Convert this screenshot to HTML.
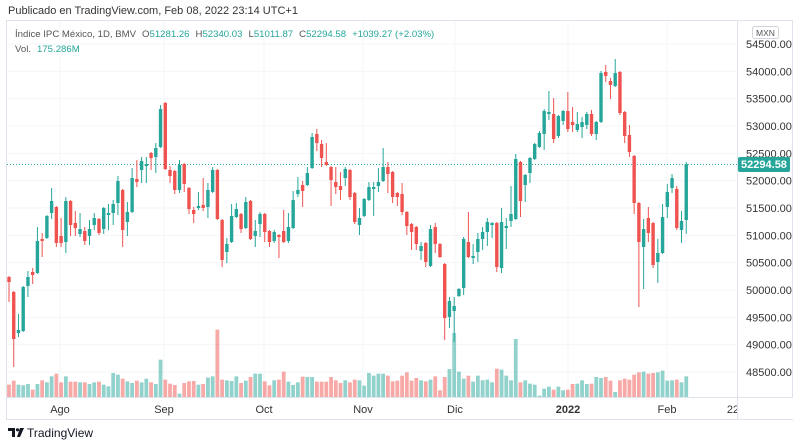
<!DOCTYPE html>
<html><head><meta charset="utf-8"><style>
html,body{margin:0;padding:0;background:#fff;width:800px;height:447px;overflow:hidden}
svg{display:block}
text{font-family:"Liberation Sans",sans-serif}
</style></head><body>
<svg id="c" width="800" height="447" xmlns="http://www.w3.org/2000/svg"></svg>
<script>
const G='#26a69a',R='#ef5350';
const C=[
['r',277,282,276,302],['r',292,339,291,367],['g',330,333,314,337],['g',287,331,286,332],['g',277,286,271,297],['r',272,275,268,284],['g',241,273,227,274],['r',239,241,233,257],['g',216,238,215,239],['g',201,213,188,219],
['r',207,243,206,247],['r',236,243,218,247],['g',201,242,197,253],['r',201,225,200,236],['r',223,228,211,236],['g',229,234,213,237],['r',231,241,227,245],['g',229,236,220,245],['g',218,225,213,230],['r',219,233,218,235],
['g',208,229,207,234],['g',213,215,204,230],['g',204,213,200,225],['g',181,203,176,215],['r',190,230,189,247],['g',212,222,202,236],['g',178,212,168,213],['r',179,182,160,187],['g',161,170,157,183],['g',164,166,157,183],
['r',153,158,152,170],['g',148,157,143,173],['g',109,147,105,148],['r',103,169,102,170],['r',170,176,166,183],['r',171,190,170,194],['g',165,190,160,193],['r',164,184,163,192],['r',188,209,187,214],['r',210,214,207,223],
['g',206,208,192,210],['r',205,208,178,211],['g',190,207,183,218],['g',170,192,167,193],['r',170,219,169,220],['r',220,260,219,267],['g',244,252,238,263],['g',216,242,204,243],['g',209,217,203,218],['r',214,229,213,233],
['g',202,228,197,229],['r',201,239,200,240],['g',231,236,220,247],['g',214,224,212,237],['r',214,232,213,242],['r',231,242,230,247],['g',232,241,230,243],['r',235,237,234,258],['r',231,242,210,243],['g',227,241,213,243],
['g',200,228,191,229],['g',190,194,177,197],['r',185,191,181,207],['g',173,185,167,186],['g',137,168,133,169],['r',134,143,129,151],['r',144,158,140,167],['r',162,165,143,166],['r',167,180,166,206],['r',182,187,167,194],
['r',186,190,172,200],['g',169,178,167,186],['r',170,197,169,200],['r',193,222,192,224],['g',218,225,208,235],['g',199,216,198,217],['g',187,200,182,201],['g',187,189,182,216],['g',182,186,168,192],['g',167,181,148,182],
['r',167,174,162,193],['r',172,197,171,203],['r',193,197,192,206],['r',194,212,183,215],['r',212,226,211,235],['r',224,232,223,250],['r',227,244,226,250],['g',246,251,242,260],['r',243,262,242,267],['g',229,266,225,267],
['r',227,244,223,253],['r',244,257,243,258],['r',264,318,263,340],['g',301,317,297,328],['g',306,311,297,342],['g',289,296,288,297],['g',239,288,237,295],['r',242,257,212,258],['g',256,258,244,264],['g',239,252,233,262],
['g',232,239,227,250],['g',222,232,218,246],['g',223,225,222,238],['r',223,267,222,272],['g',222,268,208,273],['g',226,228,218,249],['g',214,221,186,227],['g',159,219,154,220],['r',162,201,161,217],['g',175,185,174,202],
['g',158,173,157,183],['g',144,159,143,160],['g',133,147,131,148],['g',111,134,109,150],['g',112,114,91,120],['r',114,139,98,143],['g',116,136,115,138],['g',111,121,110,125],['r',111,129,92,132],['r',122,125,107,132],
['g',124,130,112,132],['g',122,127,117,138],['g',114,125,112,129],['r',114,134,110,136],['g',122,134,121,140],['g',73,122,71,123],['r',72,76,65,82],['r',81,85,78,99],['g',73,86,59,87],['r',72,113,71,115],
['r',112,136,111,143],['r',135,152,125,157],['r',156,203,155,214],['r',203,242,202,307],['g',229,247,219,289],['r',218,233,207,242],['r',223,265,222,268],['g',253,262,239,283],['g',217,253,204,254],['g',192,207,184,218],
['g',178,188,174,193],['r',189,228,186,230],['g',221,230,211,243],['g',164,220,162,234]];
const z4='r195 r183 g195 g197 g193 r210 g193 r182 g188 g170 r162 r188 g170 r186 r186 g188 r188 g193 g188 r186 g195 g200 g160 g165 r177 g185 g190 r183 g188 g177 r188 g193 g120 r180 r192 r196 g222 r190 r185 r184 g195 r193 g174 g170 r30 r180 g182 g184 g170 r190 g183 r172 g162 g162 r185 r197 g182 r180 r156 g186 g196 g188 r171 g172 g172 r186 r186 r186 r172 r182'.split(' ');
const z5='r190 g182 r188 r180 g182 g198 g160 g168 g162 g162 r168 r185 r183 r168 r158 r183 r175 g182 r185 g180 r170 r212 r172 g148 g40 g156 g177 r168 g186 g168 g182 g180 g188 r147 g150 g168 g182 g58 r188 g182 g192 g195 g228 g207 g201 r210 g201 g212 r210 r193 g192 g182 g193 r192 g172 g175 r172 r183 g217 r182 r177 r180 r165 r158 g156 r162 r160 g158 g153 g183 g182 r180 g188 g170'.split(' ');
const V=z4.slice(0,70).concat(z5);
let s='';
const X=i=>9+i*4.736;
s+='<rect x="6.5" y="20.5" width="786" height="399" fill="none" stroke="#e0e3eb"/>';
const yp=p=>44+(54500-p)/500*27.333;
for(let p=48500;p<=54500;p+=500){const y=yp(p);s+=`<line x1="7" x2="737" y1="${y}" y2="${y}" stroke="#f3f5f9"/>`;
s+=`<text x="746" y="${y+4}" font-size="11" fill="#333">${p.toFixed(2)}</text>`;}
const M=[[60,'Ago'],[164,'Sep'],[264,'Oct'],[363,'Nov'],[455,'Dic'],[568,'2022'],[667,'Feb']];
M.forEach(([x,t])=>{s+=`<line x1="${x}" x2="${x}" y1="21" y2="397" stroke="#f3f5f9"/>`;
s+=`<text x="${x}" y="413" font-size="11" fill="#333" text-anchor="middle"${t=='2022'?' font-weight="bold"':''}>${t}</text>`;});
s+='<text x="733" y="413" font-size="11" fill="#333" text-anchor="middle">22</text>';
s+='<rect x="737" y="397" width="56" height="22" fill="#fff"/>';
s+='<line x1="737.5" x2="737.5" y1="21" y2="419" stroke="#e0e3eb"/>';
s+='<line x1="7" x2="793" y1="397.5" y2="397.5" stroke="#e0e3eb"/>';
V.forEach((v,i)=>{const h=(232-(+v.slice(1)))/3;const x=X(i);
s+=`<rect x="${x-1.9}" y="${397-h}" width="3.8" height="${h}" fill="${v[0]=='g'?'rgba(38,166,154,0.5)':'rgba(239,83,80,0.5)'}"/>`;});
s+='<line x1="7" x2="737" y1="164.5" y2="164.5" stroke="#26a69a" stroke-dasharray="1,2"/>';
C.forEach((c,i)=>{const x=X(i),col=c[0]=='g'?G:R;
s+=`<line x1="${x}" x2="${x}" y1="${c[3]}" y2="${c[4]}" stroke="${col}" stroke-width="1"/>`;
s+=`<rect x="${x-1.7}" y="${c[1]}" width="3.4" height="${Math.max(1,c[2]-c[1])}" fill="${col}"/>`;});
s+='<rect x="738" y="157" width="52" height="15" rx="2" fill="#26a69a"/><text x="764" y="168" font-size="11" fill="#fff" text-anchor="middle" font-weight="bold">52294.58</text>';
s+='<rect x="752.5" y="26.5" width="26" height="12" rx="2" fill="#fff" stroke="#d1d4dc"/><text x="765.5" y="36" font-size="8.5" fill="#555" text-anchor="middle">MXN</text>';
s+='<text x="8" y="14" font-size="11" fill="#333">Publicado en TradingView.com, Feb 08, 2022 23:14 UTC+1</text>';
s+='<text x="15" y="37" font-size="9.6" fill="#555">Índice IPC México, 1D, BMV<tspan dx="6">O</tspan><tspan fill="#26a69a">51281.26</tspan><tspan dx="6">H</tspan><tspan fill="#26a69a">52340.03</tspan><tspan dx="6">L</tspan><tspan fill="#26a69a">51011.87</tspan><tspan dx="6">C</tspan><tspan fill="#26a69a">52294.58</tspan><tspan dx="6" fill="#26a69a">+1039.27 (+2.03%)</tspan></text>';
s+='<text x="15" y="52" font-size="9.6" fill="#555">Vol.<tspan dx="6" fill="#26a69a">175.286M</tspan></text>';
s+='<path d="M8 428h7v9h-3v-6h-4z" fill="#131722"/><circle cx="17.5" cy="429.8" r="1.6" fill="#131722"/><path d="M20 428h4l-4 9h-3z" fill="#131722"/>';
s+='<text x="27" y="437" font-size="12" fill="#131722">TradingView</text>';
document.getElementById('c').innerHTML=s;
</script>
</body></html>
